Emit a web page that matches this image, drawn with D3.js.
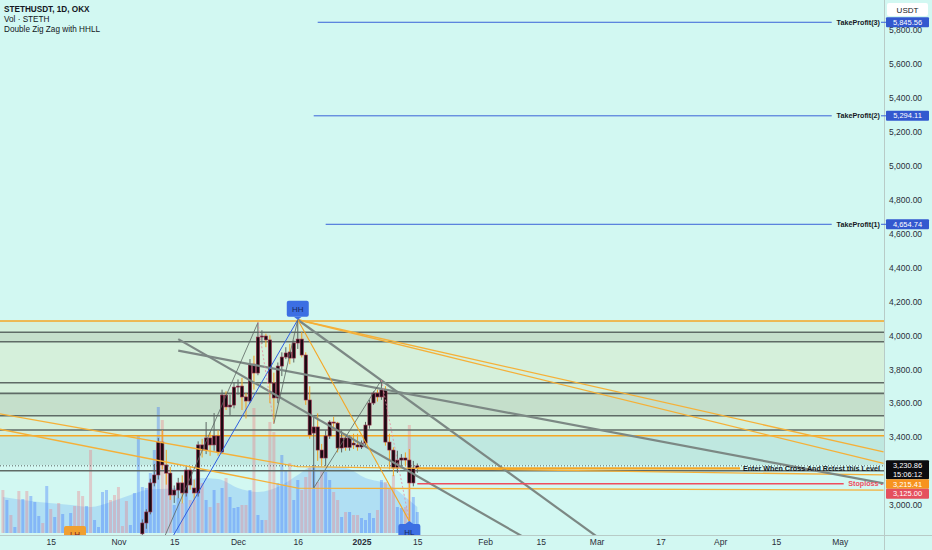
<!DOCTYPE html>
<html>
<head>
<meta charset="utf-8">
<script src="https://cdn.jsdelivr.net/npm/d3@7"></script>
<style>
body { margin: 0; background: #d2f8f2; }
svg { display: block; font-family: "Liberation Sans", Arial, sans-serif; }
</style>
</head>
<body>
<svg id="chart" width="932" height="550"></svg>
<script>
// ---- data ----
var days = [
  '2024-10-03','2024-10-04','2024-10-05','2024-10-06','2024-10-07','2024-10-08','2024-10-09','2024-10-10','2024-10-11','2024-10-12',
  '2024-10-13','2024-10-14','2024-10-15','2024-10-16','2024-10-17','2024-10-18','2024-10-19','2024-10-20','2024-10-21','2024-10-22',
  '2024-10-23','2024-10-24','2024-10-25','2024-10-26','2024-10-27','2024-10-28','2024-10-29','2024-10-30','2024-10-31','2024-11-01',
  '2024-11-02','2024-11-03','2024-11-04','2024-11-05','2024-11-06','2024-11-07','2024-11-08','2024-11-09','2024-11-10','2024-11-11',
  '2024-11-12','2024-11-13','2024-11-14','2024-11-15','2024-11-16','2024-11-17','2024-11-18','2024-11-19','2024-11-20','2024-11-21',
  '2024-11-22','2024-11-23','2024-11-24','2024-11-25','2024-11-26','2024-11-27','2024-11-28','2024-11-29','2024-11-30','2024-12-01',
  '2024-12-02','2024-12-03','2024-12-04','2024-12-05','2024-12-06','2024-12-07','2024-12-08','2024-12-09','2024-12-10','2024-12-11',
  '2024-12-12','2024-12-13','2024-12-14','2024-12-15','2024-12-16','2024-12-17','2024-12-18','2024-12-19','2024-12-20','2024-12-21',
  '2024-12-22','2024-12-23','2024-12-24','2024-12-25','2024-12-26','2024-12-27','2024-12-28','2024-12-29','2024-12-30','2024-12-31',
  '2025-01-01','2025-01-02','2025-01-03','2025-01-04','2025-01-05','2025-01-06','2025-01-07','2025-01-08','2025-01-09','2025-01-10',
  '2025-01-11','2025-01-12','2025-01-13','2025-01-14','2025-01-15'
]

// volume in K STETH, one per day
var volumes = [
  4.3,3.3,1.8,0.6,4.2,3.4,4.2,3.7,3.1,1.7, 1.0,4.7,2.4,1.6,3.0,1.9,0.6,2.0,2.7,4.2,
  3.7,2.7,8.3,1.3,0.6,4.1,4.3,3.3,3.8,4.6, 0.7,3.2,0.8,4.0,9.8,
  4.6,4.5,6.0,8.3,12.6,11.3,6.6,5.3,2.8,3.5, 3.0,4.0,3.3,3.3,4.6,5.0,3.3,2.6,4.3,3.0,
  4.5,5.5,3.6,2.5,2.6,2.8,2.8,4.3,12.5,1.8, 1.3,1.3,11.1,10.1,5.0,7.8,6.3,7.0,3.3,5.3,
  4.3,5.6,6.5,6.8,5.1,6.3,6.1,5.3,4.1,3.3, 1.6,2.1,2.1,1.8,1.8,1.5,1.3,2.0,1.5,2.3,
  5.3,5.1,4.5,5.8,2.6,2.5,2.6,10.8,3.6,2.1
]
// up (1) / down (0) for the days before the first visible candle
var earlyUp = [0,1,0,1,0,1,0,1,1,1, 0,1,0,1,0,1,1,1,0,0, 0,1,0,1,1,1,1,0,0,0, 0,0,1,1,1]

// visible candles: 2024-11-07 .. 2025-01-15
var opens = [
  2830,2894,2959,3130,3177,3371,3236,3188,3059,3088, 3130,3071,3206,3100,3071,3354,3324,3395,3354,3407,
  3312,3648,3578,3589,3695,3701,3637,3613,3831,3778, 3990,3996,3973,3719,3631,3819,3872,3902,3866,3955,
  3978,3884,3619,3424,3460,3324,3277,3407,3489,3483, 3336,3395,3340,3365,3354,3342,3365,3471,3601,3660,
  3637,3678,3371,3324,3218,3265,3277,3265,3130,3218
]
var highs = [
  2915,2975,3155,3242,3395,3442,3325,3225,3115,3160, 3175,3230,3230,3150,3375,3390,3489,3430,3542,3440,
  3680,3670,3650,3720,3740,3750,3660,3860,3880,4075, 4030,4010,4000,3780,3840,3900,3930,3950,3970,4092,
  4020,3900,3700,3524,3540,3360,3440,3500,3520,3490, 3440,3420,3410,3420,3420,3380,3490,3620,3670,3680,
  3737,3700,3420,3340,3320,3300,3310,3330,3260,3245
]
var lows = [
  2800,2860,2945,3110,3150,3210,3120,3030,3012,3040, 3010,3050,3090,3030,3050,3280,3300,3290,3320,3290,
  3300,3560,3530,3570,3650,3560,3510,3600,3680,3765, 3950,3930,3600,3480,3600,3760,3860,3830,3840,3920,
  3870,3590,3390,3100,3260,3230,3230,3390,3440,3310, 3310,3320,3320,3330,3320,3330,3350,3450,3590,3610,
  3620,3350,3210,3170,3190,3230,3230,2905,3110,3190
]
var closes = [
  2894,2959,3130,3177,3371,3236,3188,3059,3088,3130, 3071,3206,3118,3071,3354,3324,3395,3354,3407,3312,
  3648,3578,3589,3695,3701,3637,3613,3831,3778,3990, 3996,3973,3719,3631,3819,3872,3896,3866,3955,3978,
  3884,3619,3413,3460,3324,3277,3407,3489,3483,3336, 3395,3340,3401,3354,3342,3365,3471,3601,3660,3637,
  3678,3371,3324,3218,3265,3277,3265,3130,3218,3230.86
]
var firstCandle = 35   // index in days of 2024-11-07

// volume moving average, read as knots
var volMADays = ['2024-10-03','2024-10-12','2024-10-20','2024-10-25','2024-10-30','2024-11-04','2024-11-08','2024-11-15',
  '2024-11-21','2024-11-26','2024-12-01','2024-12-06','2024-12-12','2024-12-16','2024-12-20','2024-12-28',
  '2025-01-02','2025-01-08','2025-01-12','2025-01-15']
var volMA = [3.6,3.1,2.8,2.6,3.1,3.8,4.3,4.5, 5.5,5.4,4.5,4.1,4.8,5.8,6.7,6.5, 5.5,4.8,3.6,2.6]

// horizontal zones and levels (price)
var zoneFrom = [4085, 4018, 3962, 3658, 3526, 3408]
var zoneTo   = [4018, 3962, 3658, 3526, 3408, 3236]
var zoneKind = ['light', 'dark', 'light', 'dark', 'light', 'teal']
var levelPrices = [4085, 4018, 3962, 3721, 3658, 3526, 3442, 3408, 3202]
var levelKind   = ['orange', 'gray', 'gray', 'gray', 'gray', 'gray', 'gray', 'orange', 'gray']

// trend / zig zag lines as [date, price]
var trendLines = [
  { kind: 'orange', pts: [['2024-10-02', 3538], ['2024-12-16', 3226], ['2025-05-12', 3177]] },
  { kind: 'orange', pts: [['2024-10-02', 3448], ['2024-12-16', 3100], ['2025-05-12', 3088]] },
  { kind: 'orange', pts: [['2024-12-16', 4092], ['2025-05-12', 3313]] },
  { kind: 'orange', pts: [['2024-12-16', 4092], ['2025-05-12', 3245]] },
  { kind: 'thick', pts: [['2024-12-16', 4092], ['2025-03-01', 2815]] },
  { kind: 'thick', pts: [['2024-11-16', 3978], ['2025-03-01', 2564]] },
  { kind: 'thick', pts: [['2024-11-16', 3910], ['2025-05-12', 3127]] },
  { kind: 'blue', pts: [['2024-11-14', 2788], ['2024-12-16', 4092]] },
  { kind: 'zigorange', pts: [['2024-12-16', 4092], ['2025-01-13', 2905]] },
  { kind: 'thin', pts: [['2024-11-12', 2782], ['2024-12-06', 4075]] },
  { kind: 'thin', pts: [['2024-12-10', 3480], ['2024-12-16', 4092]] },
  { kind: 'thin', pts: [['2024-12-20', 3100], ['2025-01-06', 3737]] },
  { kind: 'pink', pts: [['2024-12-06', 4075], ['2024-12-10', 3480]] },
  { kind: 'pink', pts: [['2025-01-06', 3737], ['2025-01-13', 2905]] }
]

var tpNames  = ['TakeProfit(1)', 'TakeProfit(2)', 'TakeProfit(3)']
var tpPrices = [4654.74, 5294.11, 5845.56]
var tpStart  = ['2024-12-23', '2024-12-20', '2024-12-21']
var tpEnd = '2025-04-29'
var entryPrice = 3215.41, stopPrice = 3125.00, lastPrice = 3230.86, countdown = '15:06:12'

var priceTicks = [3000, 3400, 3600, 3800, 4000, 4200, 4400, 4600, 4800, 5000, 5200, 5400, 5600, 5800]
var timeTicks  = ['2024-10-15','2024-11-01','2024-11-15','2024-12-01','2024-12-16','2025-01-01','2025-01-15',
  '2025-02-01','2025-02-15','2025-03-01','2025-03-17','2025-04-01','2025-04-15','2025-05-01']
var timeLabels = ['15','Nov','15','Dec','16','2025','15','Feb','15','Mar','17','Apr','15','May']

// ---- drawing ----
var parse = d3.utcParse('%Y-%m-%d')
var W = 932, H = 550, plotW = 884, plotH = 535

var x = d3.scaleUtc()
  .domain([parse('2024-12-01'), parse('2025-05-01')])
  .range([238, 839.7])
var y = d3.scaleLinear().domain([3000, 5800]).range([505, 30])
var yVol = d3.scaleLinear().domain([0, 10]).range([533, 433])

var colors = {
  bg: '#d2f8f2', light: '#d5f0db', dark: '#c5dfcb', teal: '#bfe8e0',
  orange: '#f5a623', gray: '#66736e', blue: '#2962ff', red: '#ef4d5e'
}

var svg = d3.select('#chart')
svg.append('rect').attr('width', W).attr('height', H).attr('fill', colors.bg)

svg.append('defs').append('clipPath').attr('id', 'plotClip')
  .append('rect').attr('width', plotW).attr('height', plotH)

var plot = svg.append('g').attr('clip-path', 'url(#plotClip)')

// zones
plot.selectAll('.zone')
  .data(zoneFrom)
  .enter()
  .append('rect')
  .attr('class', 'zone')
  .attr('x', 0)
  .attr('width', plotW)
  .attr('y', function(d) { return y(d) })
  .attr('height', function(d, i) { return y(zoneTo[i]) - y(d) })
  .attr('fill', function(d, i) { return colors[zoneKind[i]] })

// volume MA area
var maArea = d3.area()
  .x(function(d, i) { return x(parse(volMADays[i])) })
  .y0(yVol(0))
  .y1(function(d) { return yVol(d) })
  .curve(d3.curveMonotoneX)
plot.append('path').datum(volMA).attr('d', maArea)
  .attr('fill', 'rgba(100,165,245,0.30)')

function isUp(i) {
  if (i < firstCandle) return earlyUp[i] === 1
  return closes[i - firstCandle] >= opens[i - firstCandle]
}

plot.selectAll('.vol')
  .data(volumes)
  .enter()
  .append('rect')
  .attr('class', 'vol')
  .attr('x', function(d, i) { return x(parse(days[i])) - 1.5 })
  .attr('width', 3)
  .attr('y', function(d) { return yVol(d) })
  .attr('height', function(d) { return yVol(0) - yVol(d) })
  .attr('fill', function(d, i) { return isUp(i) ? 'rgba(41,98,255,0.32)' : 'rgba(242,110,120,0.32)' })

// horizontal levels
plot.selectAll('.level')
  .data(levelPrices)
  .enter()
  .append('line')
  .attr('class', 'level')
  .attr('x1', 0).attr('x2', plotW)
  .attr('y1', function(d) { return y(d) })
  .attr('y2', function(d) { return y(d) })
  .attr('stroke', function(d, i) { return levelKind[i] === 'orange' ? colors.orange : '#5f6b66' })
  .attr('stroke-width', 1.6)

// last price dotted line
plot.append('line')
  .attr('x1', 0).attr('x2', plotW)
  .attr('y1', y(lastPrice)).attr('y2', y(lastPrice))
  .attr('stroke', '#5a6360').attr('stroke-width', 1).attr('stroke-dasharray', '1,2')

// candles
var candleData = opens.map(function(o, i) {
  return { date: parse(days[firstCandle + i]), o: o, h: highs[i], l: lows[i], c: closes[i] }
})
var candles = plot.selectAll('.candle')
  .data(candleData)
  .enter()
  .append('g')
  .attr('class', 'candle')
candles.append('line')
  .attr('x1', function(d) { return x(d.date) })
  .attr('x2', function(d) { return x(d.date) })
  .attr('y1', function(d) { return y(d.h) })
  .attr('y2', function(d) { return y(d.l) })
  .attr('stroke', function(d) { return d.c >= d.o ? '#5c6662' : '#f0a020' })
  .attr('stroke-width', 1)
candles.append('rect')
  .attr('x', function(d) { return x(d.date) - 1.6 })
  .attr('width', 3.2)
  .attr('y', function(d) { return y(Math.max(d.o, d.c)) })
  .attr('height', function(d) { return Math.max(1, Math.abs(y(d.o) - y(d.c))) })
  .attr('fill', '#1a0b12')
  .attr('stroke', '#a02c4c')
  .attr('stroke-width', 0.6)

// trend lines
var line = d3.line()
  .x(function(p) { return x(parse(p[0])) })
  .y(function(p) { return y(p[1]) })
var lineStyle = {
  orange:    { stroke: '#f5b038', width: 1.3, dash: null },
  thick:     { stroke: '#7c8884', width: 2.2, dash: null },
  blue:      { stroke: '#2f5fe0', width: 1, dash: null },
  zigorange: { stroke: '#f5a623', width: 1.1, dash: null },
  thin:      { stroke: '#5c6662', width: 0.8, dash: null },
  pink:      { stroke: '#e48aa0', width: 0.8, dash: '2,2' }
}
plot.selectAll('.trend')
  .data(trendLines)
  .enter()
  .append('path')
  .attr('class', 'trend')
  .attr('d', function(d) { return line(d.pts) })
  .attr('fill', 'none')
  .attr('stroke', function(d) { return lineStyle[d.kind].stroke })
  .attr('stroke-width', function(d) { return lineStyle[d.kind].width })
  .attr('stroke-dasharray', function(d) { return lineStyle[d.kind].dash })

// entry and stoploss lines
plot.append('line')
  .attr('x1', x(parse(days[days.length - 1]))).attr('x2', x(parse('2025-04-06')))
  .attr('y1', y(entryPrice)).attr('y2', y(entryPrice))
  .attr('stroke', colors.orange).attr('stroke-width', 2.2)
plot.append('text')
  .attr('x', 880).attr('y', y(entryPrice) + 2.5)
  .attr('text-anchor', 'end')
  .attr('font-size', 7.2).attr('font-weight', 'bold').attr('fill', '#131722')
  .text('Enter When Cross And Retest this Level')
plot.append('line')
  .attr('x1', x(parse(days[days.length - 1]))).attr('x2', x(parse('2025-05-02')))
  .attr('y1', y(stopPrice)).attr('y2', y(stopPrice))
  .attr('stroke', colors.red).attr('stroke-width', 1.5)
plot.append('text')
  .attr('x', 883).attr('y', y(stopPrice) + 2.5)
  .attr('text-anchor', 'end')
  .attr('font-size', 7.2).attr('font-weight', 'bold').attr('fill', colors.red)
  .text('Stoploss -')

// take profit lines
plot.selectAll('.tp')
  .data(tpPrices)
  .enter()
  .append('line')
  .attr('class', 'tp')
  .attr('x1', function(d, i) { return x(parse(tpStart[i])) })
  .attr('x2', x(parse(tpEnd)))
  .attr('y1', function(d) { return y(d) })
  .attr('y2', function(d) { return y(d) })
  .attr('stroke', '#3a62d8').attr('stroke-width', 1)
plot.selectAll('.tpText')
  .data(tpPrices)
  .enter()
  .append('text')
  .attr('class', 'tpText')
  .attr('x', 880)
  .attr('y', function(d) { return y(d) + 2.5 })
  .attr('text-anchor', 'end')
  .attr('font-size', 7.2).attr('font-weight', 'bold').attr('fill', '#131722')
  .text(function(d, i) { return tpNames[i] })

// pivot labels
function pivotLabel(date, price, text, fill, up) {
  var cx = x(parse(date)), py = y(price)
  var g = plot.append('g')
  var top = up ? py + 3 : py - 19
  g.append('rect').attr('x', cx - 11).attr('y', top).attr('width', 22).attr('height', 16)
    .attr('rx', 2).attr('fill', fill)
  var tip = up ? [[cx - 4, top], [cx + 4, top], [cx, py]] : [[cx - 4, top + 16], [cx + 4, top + 16], [cx, py]]
  g.append('path').attr('d', d3.line()(tip) + 'Z').attr('fill', fill)
  g.append('text').attr('x', cx).attr('y', top + 11).attr('text-anchor', 'middle')
    .attr('font-size', 8).attr('fill', '#17285e').text(text)
}
pivotLabel('2024-12-16', 4092, 'HH', '#3c6fe3', false)
pivotLabel('2025-01-13', 2905, 'HL', '#3c6fe3', true)
plot.append('rect').attr('x', 64).attr('y', 526).attr('width', 22).attr('height', 14)
  .attr('rx', 2).attr('fill', '#f0a030')
plot.append('text').attr('x', 75).attr('y', 537).attr('text-anchor', 'middle')
  .attr('font-size', 8).attr('fill', '#7a1b2a').text('LH')

// separators
svg.append('line').attr('x1', plotW + 0.5).attr('x2', plotW + 0.5).attr('y1', 0).attr('y2', H)
  .attr('stroke', '#b8cbc7').attr('stroke-width', 1)
svg.append('line').attr('x1', 0).attr('x2', W).attr('y1', plotH + 0.5).attr('y2', plotH + 0.5)
  .attr('stroke', '#b8cbc7').attr('stroke-width', 1)

// price axis
var yAxis = d3.axisRight(y)
  .tickValues(priceTicks)
  .tickFormat(d3.format(',.2f'))
  .tickSize(0)
  .tickPadding(5)
var yg = svg.append('g').attr('transform', 'translate(' + plotW + ',0)').call(yAxis)
yg.select('.domain').remove()
yg.selectAll('text').attr('font-size', 8.5).attr('fill', '#2a2e39')
  .attr('font-family', '"Liberation Sans", Arial, sans-serif')

// time axis
var xAxis = d3.axisBottom(x)
  .tickValues(timeTicks.map(parse))
  .tickFormat(function(d, i) { return timeLabels[i] })
  .tickSize(0)
  .tickPadding(4)
var xg = svg.append('g').attr('transform', 'translate(0,' + plotH + ')').call(xAxis)
xg.select('.domain').remove()
xg.selectAll('text').attr('font-size', 8.5).attr('fill', '#2a2e39')
  .attr('font-family', '"Liberation Sans", Arial, sans-serif')
  .attr('font-weight', function(d, i) { return timeLabels[i] === '2025' ? 'bold' : 'normal' })

// price label boxes on the axis
function axisBox(top, h, fill, lines, color) {
  svg.append('rect').attr('x', plotW + 2).attr('y', top).attr('width', 43).attr('height', h)
    .attr('fill', fill).attr('rx', 1)
  lines.forEach(function(t, i) {
    svg.append('text').attr('x', plotW + 23.5).attr('y', top + 7.3 + i * 9)
      .attr('text-anchor', 'middle').attr('font-size', 7.5).attr('fill', color).text(t)
  })
}
tpPrices.forEach(function(p) {
  svg.append('line').attr('x1', plotW - 3).attr('x2', plotW + 2).attr('y1', y(p)).attr('y2', y(p))
    .attr('stroke', '#3a62d8')
  axisBox(y(p) - 5, 10, '#3358cf', [d3.format(',.2f')(p)], '#ffffff')
})
axisBox(y(lastPrice) - 5.5, 19, '#0c0c10', [d3.format(',.2f')(lastPrice), countdown], '#ffffff')
axisBox(y(lastPrice) + 13.5, 9.5, '#f7931e', [d3.format(',.2f')(entryPrice)], '#ffffff')
axisBox(y(lastPrice) + 23, 10, '#e5505e', [d3.format(',.2f')(stopPrice)], '#ffffff')

// currency box
svg.append('rect').attr('x', 887).attr('y', 3).attr('width', 41).attr('height', 13)
  .attr('rx', 2).attr('fill', '#ffffff')
svg.append('text').attr('x', 907.5).attr('y', 12.5).attr('text-anchor', 'middle')
  .attr('font-size', 8).attr('fill', '#131722').text('USDT')

// header
var header = ['STETHUSDT, 1D, OKX', 'Vol \u00b7 STETH', 'Double Zig Zag with HHLL']
svg.selectAll('.hdr')
  .data(header)
  .enter()
  .append('text')
  .attr('class', 'hdr')
  .attr('x', 4)
  .attr('y', function(d, i) { return 12 + i * 10 })
  .attr('font-size', 8.2)
  .attr('font-weight', function(d, i) { return i === 0 ? 'bold' : 'normal' })
  .attr('fill', '#131722')
  .text(function(d) { return d })
</script>
</body>
</html>
